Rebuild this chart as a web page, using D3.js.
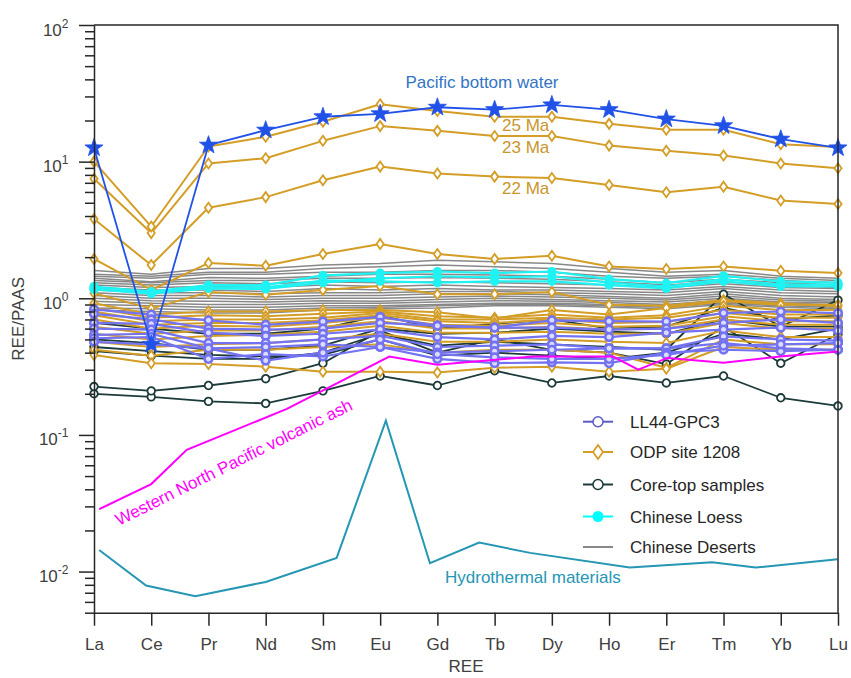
<!DOCTYPE html>
<html>
<head>
<meta charset="utf-8">
<script src="https://cdn.jsdelivr.net/npm/d3@7"></script>
<style>
  body { margin: 0; background: #fff; }
  text { font-family: "Liberation Sans", Arial, Helvetica, sans-serif; }
</style>
</head>
<body>
<div id="chart"></div>
<script>
////////////////////////////////////////////////////////////////////////
// Data (REE normalised to PAAS)

let ree = ["La", "Ce", "Pr", "Nd", "Sm", "Eu", "Gd", "Tb", "Dy", "Ho", "Er", "Tm", "Yb", "Lu"];

let pacificWater = [12.6, 0.46, 13.2, 17, 21.3, 22.4, 25, 24, 26, 24, 20.5, 18.3, 14.6, 12.6];

// ODP site 1208 (25, 23 and 22 Ma are the labelled top three)
let odp25 = [10, 3.35, 12.9, 15.2, 19.6, 26.3, 23.5, 21.3, 21.3, 18.9, 17.1, 17.1, 13.4, 12.8];
let odp23 = [7.5, 3.0, 9.7, 10.6, 14.2, 18.2, 16.8, 15.4, 15.4, 13.1, 12.0, 11.1, 9.7, 8.95];
let odp22 = [3.8, 1.75, 4.6, 5.5, 7.3, 9.2, 8.2, 7.77, 7.6, 6.75, 5.97, 6.56, 5.19, 4.9];
let odpOthers = [
  [1.94, 1.15, 1.81, 1.73, 2.11, 2.5, 2.11, 1.94, 2.05, 1.71, 1.64, 1.71, 1.59, 1.53],
  [1.09, 0.84, 1.11, 1.06, 1.15, 1.23, 1.07, 1.07, 1.11, 0.895, 0.88, 0.97, 0.92, 0.87],
  [0.92, 0.76, 0.8, 0.8, 0.82, 0.82, 0.79, 0.71, 0.82, 0.76, 0.85, 0.95, 0.895, 0.895],
  [0.85, 0.72, 0.75, 0.74, 0.77, 0.8, 0.74, 0.72, 0.76, 0.72, 0.75, 0.88, 0.82, 0.82],
  [0.8, 0.68, 0.7, 0.7, 0.72, 0.78, 0.7, 0.7, 0.72, 0.7, 0.72, 0.82, 0.76, 0.76],
  [0.75, 0.64, 0.66, 0.66, 0.69, 0.75, 0.68, 0.66, 0.7, 0.66, 0.67, 0.78, 0.72, 0.72],
  [0.7, 0.6, 0.63, 0.62, 0.66, 0.72, 0.64, 0.63, 0.66, 0.62, 0.63, 0.74, 0.68, 0.68],
  [0.62, 0.55, 0.58, 0.58, 0.62, 0.68, 0.6, 0.6, 0.62, 0.59, 0.6, 0.7, 0.64, 0.64],
  [0.55, 0.5, 0.53, 0.54, 0.57, 0.63, 0.56, 0.56, 0.57, 0.55, 0.55, 0.66, 0.6, 0.6],
  [0.48, 0.44, 0.46, 0.47, 0.5, 0.55, 0.48, 0.48, 0.5, 0.48, 0.47, 0.58, 0.52, 0.52],
  [0.42, 0.38, 0.42, 0.42, 0.44, 0.46, 0.4, 0.42, 0.42, 0.4, 0.31, 0.5, 0.46, 0.46],
  [0.385, 0.335, 0.33, 0.316, 0.29, 0.29, 0.286, 0.31, 0.316, 0.29, 0.305, 0.44, 0.42, 0.42]
];

let ll44 = [
  [0.83, 0.76, 0.69, 0.64, 0.675, 0.73, 0.63, 0.61, 0.69, 0.68, 0.675, 0.78, 0.8, 0.78],
  [0.77, 0.70, 0.60, 0.59, 0.60, 0.66, 0.63, 0.61, 0.61, 0.59, 0.60, 0.66, 0.70, 0.66],
  [0.66, 0.65, 0.56, 0.53, 0.55, 0.59, 0.52, 0.50, 0.53, 0.52, 0.56, 0.59, 0.61, 0.58],
  [0.60, 0.59, 0.47, 0.47, 0.50, 0.53, 0.44, 0.45, 0.46, 0.43, 0.43, 0.525, 0.50, 0.49],
  [0.54, 0.55, 0.43, 0.44, 0.46, 0.44, 0.40, 0.41, 0.42, 0.43, 0.43, 0.47, 0.43, 0.42],
  [0.51, 0.52, 0.36, 0.39, 0.375, 0.44, 0.36, 0.335, 0.34, 0.335, 0.40, 0.42, 0.41, 0.42],
  [0.48, 0.46, 0.43, 0.35, 0.40, 0.50, 0.39, 0.37, 0.36, 0.36, 0.385, 0.45, 0.46, 0.47]
];

let coreTop = [
  [0.2, 0.19, 0.176, 0.17, 0.21, 0.27, 0.23, 0.295, 0.24, 0.27, 0.24, 0.27, 0.187, 0.163],
  [0.226, 0.21, 0.23, 0.258, 0.335, 0.58, 0.40, 0.5, 0.42, 0.40, 0.33, 0.62, 0.335, 0.545],
  [0.44, 0.41, 0.385, 0.375, 0.385, 0.5, 0.38, 0.40, 0.38, 0.36, 0.40, 0.55, 0.5, 0.6],
  [0.41, 0.38, 0.36, 0.36, 0.40, 0.55, 0.45, 0.48, 0.46, 0.44, 0.42, 1.07, 0.62, 0.97],
  [0.66, 0.6, 0.55, 0.55, 0.6, 0.75, 0.6, 0.65, 0.7, 0.6, 0.62, 0.85, 0.7, 0.75],
  [0.5, 0.47, 0.42, 0.42, 0.45, 0.6, 0.55, 0.56, 0.6, 0.57, 0.55, 0.7, 0.62, 0.62]
];

let loess = [
  [1.22, 1.12, 1.25, 1.25, 1.47, 1.53, 1.57, 1.53, 1.57, 1.38, 1.29, 1.46, 1.33, 1.3],
  [1.18, 1.10, 1.2, 1.2, 1.35, 1.33, 1.3, 1.33, 1.33, 1.25, 1.18, 1.33, 1.22, 1.22],
  [1.16, 1.08, 1.18, 1.17, 1.3, 1.4, 1.45, 1.42, 1.45, 1.3, 1.22, 1.38, 1.26, 1.26]
];

let deserts = [
  [1.6, 1.5, 1.65, 1.65, 1.75, 1.8, 1.9, 1.85, 1.8, 1.65, 1.55, 1.6, 1.45, 1.4],
  [1.5, 1.45, 1.55, 1.55, 1.65, 1.7, 1.75, 1.7, 1.65, 1.55, 1.45, 1.5, 1.4, 1.35],
  [1.45, 1.4, 1.5, 1.5, 1.55, 1.55, 1.6, 1.6, 1.55, 1.45, 1.4, 1.45, 1.35, 1.3],
  [1.4, 1.32, 1.42, 1.4, 1.45, 1.5, 1.5, 1.48, 1.45, 1.38, 1.3, 1.38, 1.3, 1.25],
  [1.35, 1.3, 1.35, 1.35, 1.4, 1.4, 1.42, 1.4, 1.38, 1.32, 1.25, 1.32, 1.25, 1.2],
  [1.3, 1.25, 1.3, 1.28, 1.32, 1.3, 1.32, 1.3, 1.28, 1.25, 1.2, 1.28, 1.2, 1.18],
  [1.25, 1.2, 1.22, 1.2, 1.25, 1.22, 1.25, 1.22, 1.2, 1.18, 1.15, 1.22, 1.15, 1.12],
  [1.2, 1.15, 1.15, 1.12, 1.18, 1.15, 1.18, 1.15, 1.15, 1.12, 1.1, 1.18, 1.1, 1.08],
  [1.15, 1.1, 1.1, 1.08, 1.1, 1.1, 1.12, 1.12, 1.1, 1.08, 1.05, 1.12, 1.05, 1.02],
  [1.1, 1.05, 1.05, 1.02, 1.05, 1.05, 1.08, 1.08, 1.06, 1.03, 1.0, 1.08, 1.0, 0.98],
  [1.05, 1.0, 1.0, 0.98, 1.0, 1.0, 1.02, 1.04, 1.02, 1.0, 0.97, 1.04, 0.97, 0.95],
  [1.0, 0.96, 0.95, 0.94, 0.96, 0.95, 0.98, 1.0, 0.98, 0.96, 0.94, 1.0, 0.94, 0.93],
  [0.95, 0.92, 0.9, 0.9, 0.92, 0.92, 0.94, 0.96, 0.95, 0.93, 0.9, 0.97, 0.92, 0.9],
  [0.9, 0.88, 0.86, 0.86, 0.88, 0.88, 0.9, 0.92, 0.92, 0.9, 0.88, 0.94, 0.9, 0.88],
  [0.85, 0.84, 0.82, 0.82, 0.85, 0.86, 0.88, 0.9, 0.9, 0.88, 0.86, 0.92, 0.88, 0.86],
  [0.82, 0.8, 0.78, 0.78, 0.82, 0.84, 0.85, 0.88, 0.88, 0.86, 0.84, 0.9, 0.86, 0.84]
];

// these two curves were digitised between the REE positions (x in REE index units)
let ashX = [0.09, 1.0, 1.62, 3.37, 5.16, 6.0, 7.67, 9.07, 9.51, 10.02, 11.0, 11.99, 13.0];
let ashY = [0.0286, 0.0437, 0.0778, 0.155, 0.3745, 0.326, 0.3745, 0.3745, 0.30, 0.366, 0.337, 0.3745, 0.408];

let hydroX = [0.09, 0.91, 1.77, 3.0, 4.24, 5.1, 5.87, 6.73, 7.62, 9.36, 10.8, 11.56, 12.99];
let hydroY = [0.0144, 0.0079, 0.0066, 0.0084, 0.0126, 0.127, 0.0115, 0.0163, 0.0137, 0.0107, 0.0117, 0.0107, 0.0123];

let legendNames = ["LL44-GPC3", "ODP site 1208", "Core-top samples", "Chinese Loess", "Chinese Deserts"];

////////////////////////////////////////////////////////////////////////
// Layout

let width = 851;
let height = 678;
let padL = 94, padR = 838, padT = 25, padB = 612.7;

let colPacific = "#2152e8";
let colOdp = "#d49d26";
let colLL = "#7272f2";
let colCore = "#1c3a3a";
let colLoess = "#1ff2f2";
let colDesert = "#888888";
let colAsh = "#ff00ff";
let colHydro = "#2596b4";

let svg = d3.select("#chart")
  .append("svg")
  .attr("width", width)
  .attr("height", height);

let xScale = d3.scaleLinear().domain([0, 13]).range([padL, padR]);
let yScale = d3.scaleLog().domain([0.005, 100]).range([padB, padT]);

let line = d3.line()
  .x((d, i) => xScale(i))
  .y((d) => yScale(d));

let lineXY = d3.line()
  .x((d) => xScale(d[0]))
  .y((d) => yScale(d[1]));

// marker shapes
function starPath(r) {
  let pts = [];
  for (let k = 0; k < 10; k++) {
    let rr = k % 2 === 0 ? r : r * 0.4;
    let a = -Math.PI / 2 + k * Math.PI / 5;
    pts.push([rr * Math.cos(a), rr * Math.sin(a)]);
  }
  return "M" + pts.map(p => p[0].toFixed(2) + "," + p[1].toFixed(2)).join("L") + "Z";
}
let diamondPath = "M0,-5L3.6,0L0,5L-3.6,0Z";

// draw a group of series with its markers
function drawGroup(series, cls, color, lw, marker) {
  let g = svg.append("g").attr("class", cls);
  series.forEach(s => {
    g.append("path")
      .datum(s)
      .attr("fill", "none")
      .attr("stroke", color)
      .attr("stroke-width", lw)
      .attr("stroke-linejoin", "round")
      .attr("d", line);
    if (marker) {
      g.selectAll(null)
        .data(s)
        .enter()
        .append("g")
        .attr("transform", (d, i) => "translate(" + xScale(i) + "," + yScale(d) + ")")
        .call(marker);
    }
  });
}

function odpMarker(sel) {
  sel.append("path").attr("d", diamondPath)
    .attr("fill", "#fff").attr("stroke", colOdp).attr("stroke-width", 1.8);
}
function llMarker(sel) {
  sel.append("circle").attr("r", 3.8)
    .attr("fill", "#dcdcff").attr("stroke", colLL).attr("stroke-width", 2.6);
}
function coreMarker(sel) {
  sel.append("circle").attr("r", 3.8)
    .attr("fill", "#fff").attr("stroke", colCore).attr("stroke-width", 1.8);
}
function loessMarker(sel) {
  sel.append("circle").attr("r", 4.6).attr("fill", colLoess);
}
function starMarker(sel) {
  sel.append("path").attr("d", starPath(9.5))
    .attr("fill", colPacific).attr("stroke", colPacific).attr("stroke-width", 0.8);
}

////////////////////////////////////////////////////////////////////////
// Series

drawGroup(deserts, "deserts", colDesert, 1.5, null);
drawGroup(coreTop, "core", colCore, 1.8, coreMarker);
drawGroup(odpOthers, "odp", colOdp, 2, odpMarker);
drawGroup(ll44, "ll44", colLL, 2.2, llMarker);
drawGroup(loess, "loess", colLoess, 2.2, loessMarker);
drawGroup([odp22, odp23, odp25], "odpTop", colOdp, 2, odpMarker);
drawGroup([pacificWater], "pacific", colPacific, 1.8, starMarker);

svg.append("path")
  .datum(d3.zip(ashX, ashY))
  .attr("fill", "none").attr("stroke", colAsh).attr("stroke-width", 2)
  .attr("d", lineXY);

svg.append("path")
  .datum(d3.zip(hydroX, hydroY))
  .attr("fill", "none").attr("stroke", colHydro).attr("stroke-width", 2)
  .attr("d", lineXY);

////////////////////////////////////////////////////////////////////////
// Axes

let axisColor = "#262626";
let labelColor = "#404040";

// box
svg.append("path")
  .attr("d", "M" + padL + "," + padT + "H" + padR + "V" + padB)
  .attr("fill", "none").attr("stroke", axisColor).attr("stroke-width", 1.5);

let xAxis = d3.axisBottom(xScale)
  .tickValues(d3.range(ree.length))
  .tickFormat(i => ree[i])
  .tickSize(13)
  .tickSizeOuter(0)
  .tickPadding(12);

let gx = svg.append("g")
  .attr("transform", "translate(0," + padB + ")")
  .call(xAxis);
gx.select(".domain").attr("stroke", axisColor).attr("stroke-width", 1.5);
gx.selectAll(".tick line").attr("stroke", axisColor).attr("stroke-width", 1.5);
gx.selectAll(".tick text").attr("fill", labelColor).style("font-size", "17px");

let minorTicks = [];
[-3, -2, -1, 0, 1].forEach(e => {
  for (let m = 2; m <= 9; m++) {
    let v = m * Math.pow(10, e);
    if (v >= 0.005 && v <= 100) minorTicks.push(v);
  }
});
let majorTicks = [0.01, 0.1, 1, 10, 100];

let gyMinor = svg.append("g")
  .attr("transform", "translate(" + padL + ",0)")
  .call(d3.axisLeft(yScale).tickValues(minorTicks).tickSize(9).tickSizeOuter(0).tickFormat(""));
gyMinor.selectAll(".tick line").attr("stroke", axisColor).attr("stroke-width", 1.5);
gyMinor.select(".domain").attr("stroke", axisColor).attr("stroke-width", 1.5);

let gyMajor = svg.append("g")
  .attr("transform", "translate(" + padL + ",0)")
  .call(d3.axisLeft(yScale).tickValues(majorTicks).tickSize(15).tickSizeOuter(0).tickFormat(""));
gyMajor.select(".domain").remove();
gyMajor.selectAll(".tick line").attr("stroke", axisColor).attr("stroke-width", 1.5);

// 10^k labels with superscript
gyMajor.selectAll(".tick")
  .append("text")
  .attr("x", -25.5)
  .attr("y", 10)
  .attr("text-anchor", "end")
  .attr("fill", labelColor)
  .style("font-size", "17px")
  .each(function (d) {
    let t = d3.select(this);
    t.append("tspan").text("10");
    t.append("tspan")
      .attr("dy", -8)
      .style("font-size", "12px")
      .text(Math.round(Math.log10(d)));
  });

svg.append("text")
  .attr("x", (padL + padR) / 2)
  .attr("y", 672)
  .attr("text-anchor", "middle")
  .attr("fill", labelColor)
  .style("font-size", "17px")
  .text("REE");

svg.append("text")
  .attr("transform", "translate(24," + ((padT + padB) / 2) + ") rotate(-90)")
  .attr("text-anchor", "middle")
  .attr("fill", labelColor)
  .style("font-size", "17px")
  .text("REE/PAAS");

////////////////////////////////////////////////////////////////////////
// Annotations

svg.append("text")
  .attr("x", 482).attr("y", 88)
  .attr("text-anchor", "middle")
  .attr("fill", "#3274c4")
  .style("font-size", "17px")
  .text("Pacific bottom water");

[["25 Ma", 131], ["23 Ma", 153], ["22 Ma", 194]].forEach(a => {
  svg.append("text")
    .attr("x", 502).attr("y", a[1])
    .attr("fill", "#c9962a")
    .style("font-size", "17px")
    .text(a[0]);
});

svg.append("text")
  .attr("transform", "translate(119,526) rotate(-26.5)")
  .attr("fill", colAsh)
  .style("font-size", "17px")
  .text("Western North Pacific volcanic ash");

svg.append("text")
  .attr("x", 445).attr("y", 583)
  .attr("fill", colHydro)
  .style("font-size", "17px")
  .text("Hydrothermal materials");

////////////////////////////////////////////////////////////////////////
// Legend

let legendY = [421.7, 452, 484.5, 516.5, 547];
let legendMarkers = [
  sel => sel.append("circle").attr("r", 5).attr("fill", "#fff").attr("stroke", "#5b5bc4").attr("stroke-width", 1.5),
  sel => sel.append("path").attr("d", "M0,-7L5,0L0,7L-5,0Z").attr("fill", "#fff").attr("stroke", colOdp).attr("stroke-width", 1.8),
  sel => sel.append("circle").attr("r", 5).attr("fill", "#fff").attr("stroke", colCore).attr("stroke-width", 1.5),
  sel => sel.append("circle").attr("r", 5.5).attr("fill", "#00ffff"),
  sel => sel
];
let legendColors = ["#5b5bc4", colOdp, colCore, "#00ffff", colDesert];

let legend = svg.append("g").attr("class", "legend");
legendNames.forEach((name, i) => {
  let row = legend.append("g").attr("transform", "translate(0," + legendY[i] + ")");
  row.append("line")
    .attr("x1", 583).attr("x2", 613)
    .attr("stroke", legendColors[i]).attr("stroke-width", 2);
  row.append("g").attr("transform", "translate(598,0)").call(legendMarkers[i]);
  row.append("text")
    .attr("x", 630).attr("y", 6)
    .attr("fill", "#262626")
    .style("font-size", "17px")
    .text(name);
});
</script>
</body>
</html>
